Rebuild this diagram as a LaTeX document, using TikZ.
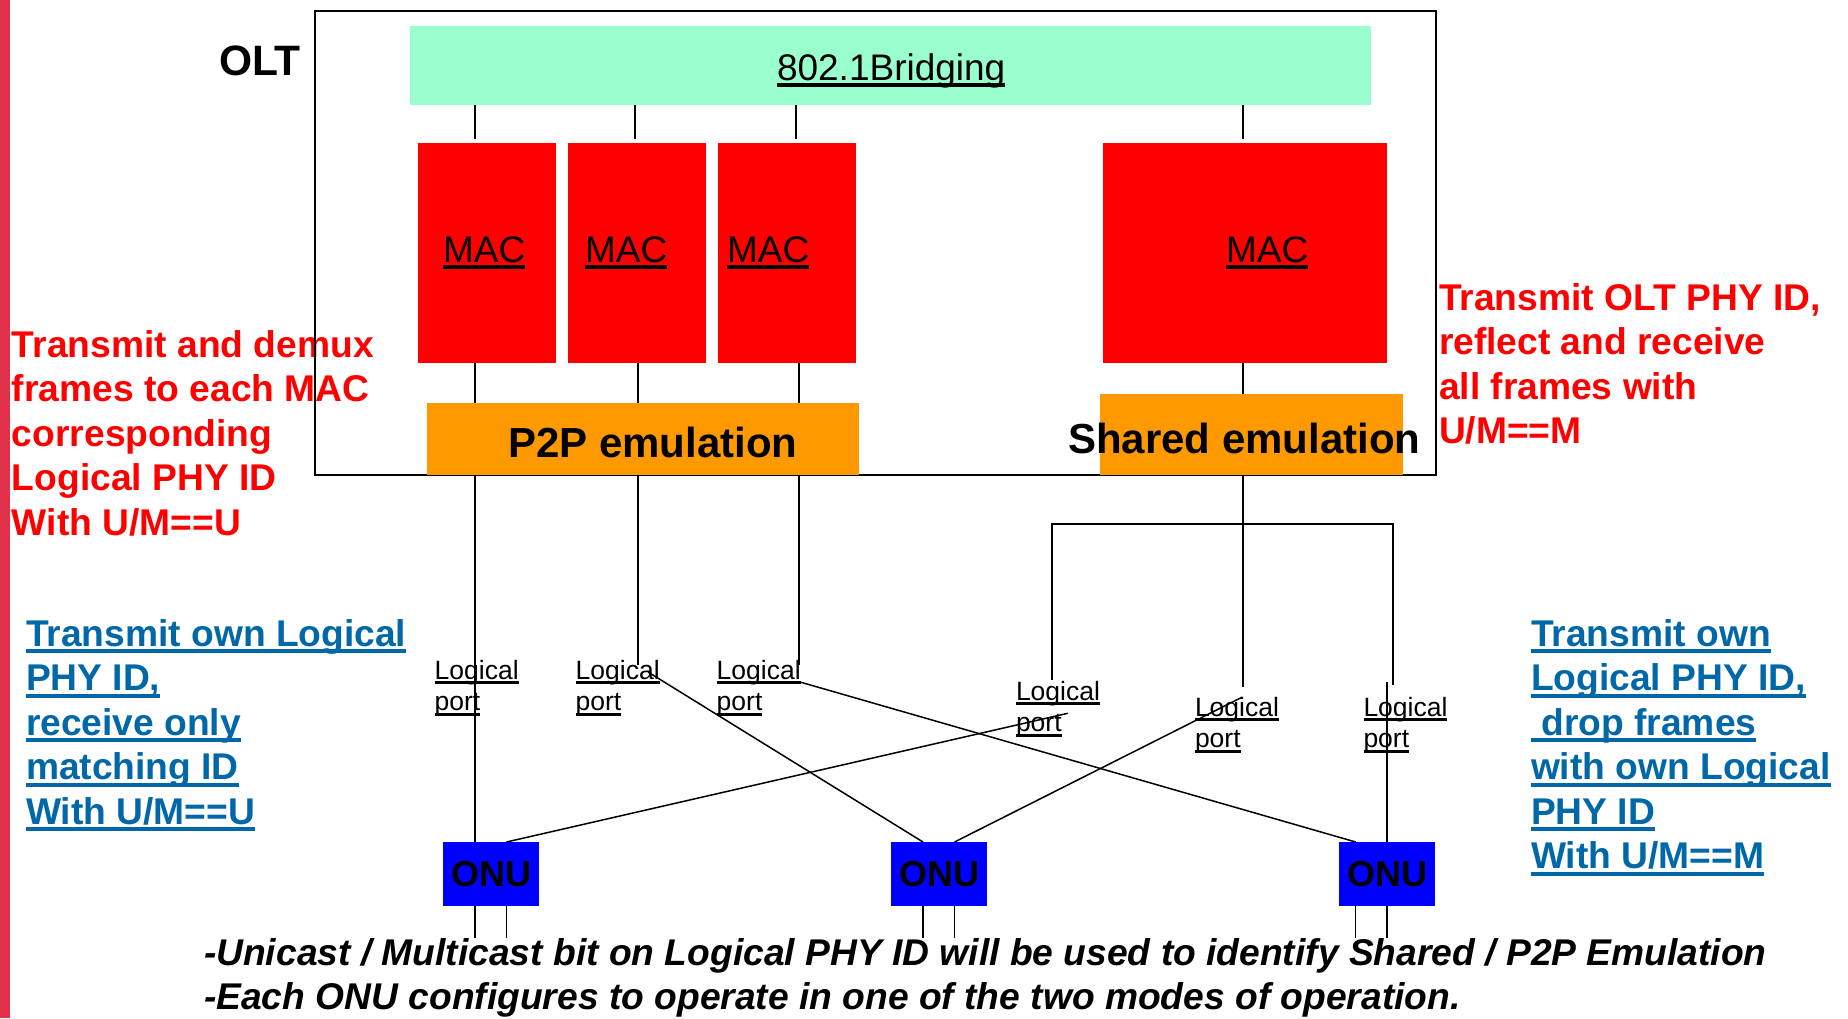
\documentclass[tikz,border=0pt]{standalone}
\usepackage{fontspec}
\setmainfont{Liberation Sans}
\definecolor{mint}{HTML}{99FFCC}
\definecolor{macred}{HTML}{FF0000}
\definecolor{emuorange}{HTML}{FF9900}
\definecolor{onublue}{HTML}{0000FF}
\definecolor{noteblue}{HTML}{0068A8}
\definecolor{barred}{HTML}{E0304A}
\newcommand\myul[1]{\setbox0\hbox{#1}\rlap{\rule[-0.19em]{\wd0}{0.1em}}\box0}
\newcommand\fsz[2]{\fontsize{#1}{#2}\selectfont}
\begin{document}
\begin{tikzpicture}[x=1pt,y=-1pt,
  box/.style={inner sep=0pt, outer sep=0pt, anchor=north west},
  conn/.style={line width=1.5pt, black},
  txt/.style={inner sep=0pt, outer sep=0pt, anchor=base west},
  big/.style={font=\bfseries\fsz{37.2}{44.5}},
  portlbl/.style={txt, font=\fsz{26.5}{31.5}},
  mactxt/.style={txt, font=\fsz{37}{44}},
  emutxt/.style={txt, font=\bfseries\fsz{42}{50}},
]
\useasboundingbox (0,0) rectangle (1848,1018);
\fill[white] (0,0) rectangle (1848,1018);
\fill[barred] (0,0) rectangle (10,1018);

% side notes (under the OLT border)
\node[txt, big, text=macred] (leftnote) at (12,357)
  {\vtop{\hbox{Transmit and demux}\hbox{frames to each MAC}\hbox{corresponding}\hbox{Logical PHY ID}\hbox{With U/M==U}}};
\node[txt, big, text=macred] (rightnote) at (1439,310)
  {\vtop{\hbox{Transmit OLT PHY ID,}\hbox{reflect and receive}\hbox{all frames with}\hbox{U/M==M}}};

% OLT frame
\node[box, draw, line width=2pt, minimum width=1121pt, minimum height=464pt] (olt) at (315,11) {};
\node[txt, font=\bfseries\fsz{42.5}{50}] (oltlbl) at (219,75) {OLT};

% blocks
\node[box, fill=mint, minimum width=961pt, minimum height=79pt] (bridge) at (410,26) {};
\node[box, fill=macred, minimum width=138pt, minimum height=220pt] (mac1) at (418,143) {};
\node[box, fill=macred, minimum width=138pt, minimum height=220pt] (mac2) at (568,143) {};
\node[box, fill=macred, minimum width=138pt, minimum height=220pt] (mac3) at (718,143) {};
\node[box, fill=macred, minimum width=284pt, minimum height=220pt] (mac4) at (1103,143) {};
\node[box, fill=emuorange, minimum width=432pt, minimum height=72pt] (p2p) at (427,403) {};
\node[box, fill=emuorange, minimum width=303pt, minimum height=81pt] (shared) at (1100,394) {};

\node[txt, font=\fsz{37}{44}] (bridgetxt) at (777,80) {\myul{802.1Bridging}};
\node[mactxt] (mac1t) at (443,262) {\myul{MAC}};
\node[mactxt] (mac2t) at (585,262) {\myul{MAC}};
\node[mactxt] (mac3t) at (727,262) {\myul{MAC}};
\node[mactxt] (mac4t) at (1226,262) {\myul{MAC}};
\node[emutxt] (p2pt) at (508,457) {P2P emulation};
\node[emutxt] (sharedt) at (1068,453) {Shared emulation};

% ONUs
\node[box, fill=onublue, minimum width=96pt, minimum height=64pt, font=\bfseries\fsz{36}{40}] (onu1) at (443,842) {ONU};
\node[box, fill=onublue, minimum width=96pt, minimum height=64pt, font=\bfseries\fsz{36}{40}] (onu2) at (891,842) {ONU};
\node[box, fill=onublue, minimum width=96pt, minimum height=64pt, font=\bfseries\fsz{36}{40}] (onu3) at (1339,842) {ONU};

% logical port labels
\node[portlbl] (port1) at (434.7,679) {\vtop{\hbox{\myul{Logical}}\hbox{\myul{port}}}};
\node[portlbl] (port2) at (575.7,679) {\vtop{\hbox{\myul{Logical}}\hbox{\myul{port}}}};
\node[portlbl] (port3) at (716.7,679) {\vtop{\hbox{\myul{Logical}}\hbox{\myul{port}}}};
\node[portlbl] (port4) at (1016,700) {\vtop{\hbox{\myul{Logical}}\hbox{\myul{port}}}};
\node[portlbl] (port5) at (1195,716) {\vtop{\hbox{\myul{Logical}}\hbox{\myul{port}}}};
\node[portlbl] (port6) at (1363.5,716) {\vtop{\hbox{\myul{Logical}}\hbox{\myul{port}}}};

% x positions of connectors
\coordinate (xa) at (475,0);
\coordinate (xb) at (635,0);
\coordinate (xc) at (796,0);
\coordinate (xd) at (1243,0);
\coordinate (xb2) at (638,0);
\coordinate (xc2) at (799,0);
\coordinate (xi) at (506.5,0);
\coordinate (xj) at (923,0);
\coordinate (xk) at (954.5,0);
\coordinate (xl) at (1355.7,0);
\coordinate (xm) at (1387,0);

% bridge -> MACs
\draw[conn] (bridge.south -| xa) -- ([yshift=4pt]mac1.north -| xa);
\draw[conn] (bridge.south -| xb) -- ([yshift=4pt]mac2.north -| xb);
\draw[conn] (bridge.south -| xc) -- ([yshift=4pt]mac3.north -| xc);
\draw[conn] (bridge.south -| xd) -- ([yshift=4pt]mac4.north -| xd);
% MACs -> emulation
\draw[conn] (mac1.south -| xa) -- (p2p.north -| xa);
\draw[conn] (mac2.south -| xb2) -- (p2p.north -| xb2);
\draw[conn] (mac3.south -| xc2) -- (p2p.north -| xc2);
\draw[conn] (mac4.south -| xd) -- (shared.north -| xd);

% P2P emulation -> ports / ONUs
\coordinate (e2) at (638,665);
\coordinate (e3) at (799,665);
\coordinate (d2s) at (648,672);
\coordinate (d3s) at (800,682);
\draw[conn] (p2p.south -| xa) -- (onu1.north -| xa);
\draw[conn] (p2p.south -| xb2) -- (e2);
\draw[conn] (p2p.south -| xc2) -- (e3);
\draw[conn] (d2s) -- (onu2.north -| xj);
\draw[conn] (d3s) -- (onu3.north -| xl);

% Shared emulation -> ports / ONUs
\coordinate (barL) at (1052,524);
\coordinate (barR) at (1393,524);
\coordinate (s1e) at (1052,680);
\coordinate (s2e) at (1243,687);
\coordinate (s3e) at (1393,685);
\coordinate (d4e) at (1067.7,713.3);
\coordinate (d5e) at (1241.8,697.3);
\coordinate (v6s) at (1387,682);
\draw[conn] (shared.south -| xd) -- (s2e);
\draw[conn] (s1e) -- (barL) -- (barR) -- (s3e);
\draw[conn] (onu1.north -| xi) -- (d4e);
\draw[conn] (onu2.north -| xk) -- (d5e);
\draw[conn] (v6s) -- (onu3.north -| xm);

% ONU stubs
\draw[conn] (onu1.south -| xa) -- ++(0,32);
\draw[conn] (onu1.south -| xi) -- ++(0,32);
\draw[conn] (onu2.south -| xj) -- ++(0,32);
\draw[conn] (onu2.south -| xk) -- ++(0,32);
\draw[conn] (onu3.south -| xl) -- ++(0,32);
\draw[conn] (onu3.south -| xm) -- ++(0,32);

% blue notes
\node[txt, big, text=noteblue] (bluel) at (26,646)
  {\vtop{\hbox{\myul{Transmit own Logical}}\hbox{\myul{PHY ID,}}\hbox{\myul{receive only}}\hbox{\myul{matching ID}}\hbox{\myul{With U/M==U}}}};
\node[txt, big, text=noteblue] (bluer) at (1531,646)
  {\vtop{\hbox{\myul{Transmit own}}\hbox{\myul{Logical PHY ID,}}\hbox{\myul{\hspace{0.28em}drop frames}}\hbox{\myul{with own Logical}}\hbox{\myul{PHY ID}}\hbox{\myul{With U/M==M}}}};

% bottom note
\node[txt, font=\bfseries\itshape\fsz{37.2}{44.5}] (note) at (204,965)
  {\vtop{\hbox{-Unicast / Multicast bit on Logical PHY ID will be used to identify Shared / P2P Emulation}\hbox{-Each ONU configures to operate in one of the two modes of operation.}}};
\end{tikzpicture}
\end{document}
